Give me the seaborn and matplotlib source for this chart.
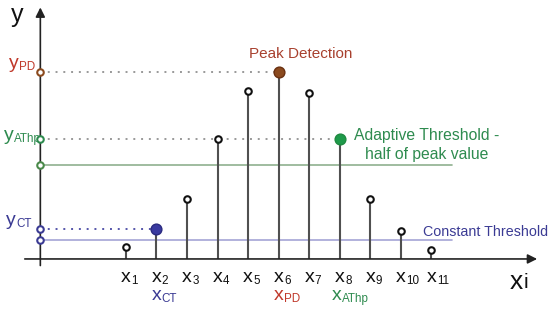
import numpy as np
import matplotlib
matplotlib.use('Agg')
import matplotlib.pyplot as plt
import seaborn as sns

# ── Data ──────────────────────────────────────────────────────
samples = [1, 2, 3, 4, 5, 6, 7, 8, 9, 10, 11]
values = [0.65, 1.6, 3.2, 6.4, 9.0, 10.0, 8.9, 6.4, 3.2, 1.5, 0.5]
tick_labels = [f'{i}' for i in samples]
idx_ct, idx_pd, idx_athp = 2, 6, 8          # detected samples
constant_threshold = 1.0
peak_value = values[idx_pd - 1]
adaptive_threshold = peak_value / 2

# ── Style ─────────────────────────────────────────────────────
sns.set_theme(style='white')
plt.rcParams['font.family'] = ['Liberation Sans', 'DejaVu Sans']

RED = '#c0392b'
BROWN = '#8b4a1e'
GREEN = '#2e8b4f'
PURPLE = '#3b3b94'
STEM = '#505050'
INK = '#111111'

fig = plt.figure(figsize=(5.5, 3.1), dpi=100)
ax = fig.add_axes([0, 0, 1, 1])
ax.set_xlim(-3.12, 14.88)
ax.set_ylim(-2.73, 13.85)
ax.axis('off')

yaxis_x = -1.8
line_end = 11.67


def sub_text(x, y, base, sub, color, size, ratio=0.6, drop=1.5, ha='center'):
    # base letter with a smaller subscript hanging to its right
    t = ax.text(x, y, base, fontsize=size, color=color, ha=ha, va='baseline')
    # text bbox bottom sits ~0.21 em below the baseline
    ax.annotate(sub, xy=(1, 0), xycoords=t, xytext=(0.3, 0.21 * size - drop),
                textcoords='offset points', fontsize=size * ratio,
                color=color, ha='left', va='baseline')


# axes with arrows
ax.annotate('', xy=(14.55, 0), xytext=(-2.4, 0),
            arrowprops=dict(arrowstyle='-|>', color='#222222', lw=1.2,
                            mutation_scale=14))
ax.annotate('', xy=(yaxis_x, 13.6), xytext=(yaxis_x, -0.5),
            arrowprops=dict(arrowstyle='-|>', color='#222222', lw=1.2,
                            mutation_scale=14))

# threshold lines
ax.plot([yaxis_x, line_end], [adaptive_threshold] * 2, color='#8fb08f', lw=1.2)
ax.plot([yaxis_x, line_end], [constant_threshold] * 2, color='#a4a4d6', lw=1.2)

# dotted guide lines to detected samples
ax.plot([yaxis_x, idx_pd], [peak_value] * 2, color='#999999', lw=1.4,
        ls=(0, (1, 3)))
ax.plot([yaxis_x, idx_athp], [values[idx_athp - 1]] * 2, color='#999999',
        lw=1.4, ls=(0, (1, 3)))
ax.plot([yaxis_x, idx_ct], [values[idx_ct - 1]] * 2, color='#5555aa',
        lw=1.4, ls=(0, (1, 3)))

# stems
ax.vlines(samples, 0, values, color=STEM, lw=1.5)
normal = [s for s in samples if s not in (idx_ct, idx_pd, idx_athp)]
sns.scatterplot(x=normal, y=[values[s - 1] for s in normal], ax=ax,
                s=22, color='white', edgecolor=INK, linewidth=1.5,
                zorder=5, legend=False)
for idx, col, edge in [(idx_ct, '#3a3aa0', '#2a2a80'),
                       (idx_pd, BROWN, '#6a3010'),
                       (idx_athp, '#1e9a4a', '#1e8a40')]:
    ax.scatter([idx], [values[idx - 1]], s=60, color=col, edgecolor=edge,
               linewidth=1, zorder=6)

# open markers on the y axis
for yv, col in [(peak_value, BROWN), (values[idx_athp - 1], GREEN),
                (adaptive_threshold, '#4a8a4a'),
                (values[idx_ct - 1], PURPLE), (constant_threshold, PURPLE)]:
    ax.scatter([yaxis_x], [yv], s=22, color='white', edgecolor=col,
               linewidth=1.5, zorder=6)

# tick labels
for s, lab in zip(samples, tick_labels):
    sub_text(s, -1.23, 'x', lab, INK, 14)
sub_text(idx_ct, -2.19, 'x', 'CT', PURPLE, 14)
sub_text(idx_pd, -2.19, 'x', 'PD', RED, 14)
sub_text(idx_athp - 0.1, -2.19, 'x', 'AThp', GREEN, 14)

# axis labels
sub_text(13.78, -1.6, 'x', 'i', INK, 19, ratio=0.8, drop=0)
ax.text(-2.55, 12.67, 'y', ha='center', va='baseline', fontsize=18,
        color=INK)

# y level labels
sub_text(-2.84, 10.21, 'y', 'PD', RED, 14, ha='left')
sub_text(-2.98, 6.36, 'y', 'AThp', GREEN, 14, ha='left')
sub_text(-2.92, 1.82, 'y', 'CT', PURPLE, 14, ha='left')

# annotations
ax.text(6.73, 10.96, 'Peak Detection', ha='center', va='center',
        fontsize=11, color='#a8402e')
ax.text(10.85, 6.1, 'Adaptive Threshold -\nhalf of peak value',
        ha='center', va='center', fontsize=11.3, color=GREEN,
        linespacing=1.3)
ax.text(10.72, 1.44, 'Constant Threshold', ha='left', va='center',
        fontsize=10.3, color=PURPLE)

fig.savefig('out.png', dpi=100)
plt.close(fig)
